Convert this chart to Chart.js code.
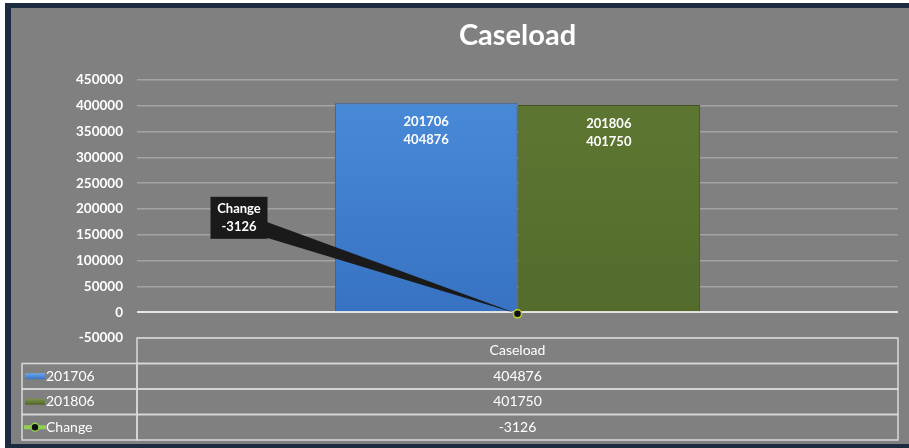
<!DOCTYPE html>
<html><head><meta charset="utf-8">
<script src="https://cdn.jsdelivr.net/npm/chart.js@4.4.0/dist/chart.umd.min.js"></script>
<style>html,body{margin:0;padding:0;background:#fff;overflow:hidden}canvas{display:block}</style>
</head><body>
<canvas id="c" width="909" height="448"></canvas>
<script>
// ---- data ----
const chartTitle = 'Caseload';
const categories = ['Caseload'];
const seriesNames = ['201706', '201806', 'Change'];
const values201706 = [404876];
const values201806 = [401750];
const valuesChange = [-3126];
const yMin = -50000, yMax = 450000, yStep = 50000;

const FONT = 'Lato, "Open Sans", sans-serif';

function vGrad(ctx, area, top, bottom) {
  if (!area) return top;
  const g = ctx.createLinearGradient(0, area.top, 0, area.bottom);
  g.addColorStop(0, top); g.addColorStop(1, bottom);
  return g;
}

const bgPlugin = {
  id: 'bg',
  beforeDraw(chart) {
    const c = chart.ctx, W = chart.width, H = chart.height;
    c.save();
    c.fillStyle = '#ffffff'; c.fillRect(0, 0, W, H);
    c.fillStyle = '#1c2b40'; c.fillRect(5, 3, W - 5, H - 3);
    c.fillStyle = '#808080'; c.fillRect(11, 8, W - 11, H - 12);
    const a = chart.chartArea;
    c.fillStyle = '#ffffff';
    c.font = 'bold 29px ' + FONT;
    c.textAlign = 'center'; c.textBaseline = 'middle';
    c.fillText(chartTitle, (a.left + a.right) / 2, 36);
    c.restore();
  }
};

const labelPlugin = {
  id: 'labels',
  afterDatasetsDraw(chart) {
    const c = chart.ctx;
    c.save();
    c.fillStyle = '#ffffff';
    c.font = 'bold 13px ' + FONT;
    c.textAlign = 'center'; c.textBaseline = 'middle';
    [0, 1].forEach(i => {
      const ds = chart.data.datasets[i];
      const bar = chart.getDatasetMeta(i).data[0];
      c.fillText(ds.label, bar.x, bar.y + 19);
      c.fillText(String(ds.data[0]), bar.x, bar.y + 37);
    });
    // callout for Change
    const meta = chart.getDatasetMeta(2);
    const p = meta.data[0];
    const bx = p.x - 307, by = p.y - 117, bw = 57, bh = 42;
    c.fillStyle = '#1a1a1a';
    c.beginPath();
    c.moveTo(bx + bw - 4, by + 24);
    c.lineTo(bx + bw - 4, by + 40);
    c.lineTo(p.x, p.y);
    c.closePath(); c.fill();
    c.fillRect(bx, by, bw, bh);
    c.fillStyle = '#ffffff';
    c.fillText(chart.data.datasets[2].label, bx + bw / 2, by + 12);
    c.fillText(String(chart.data.datasets[2].data[0]), bx + bw / 2, by + 30);
    c.restore();
    p.draw(c, chart.chartArea);
  }
};

const tablePlugin = {
  id: 'table',
  afterDraw(chart) {
    const c = chart.ctx, a = chart.chartArea;
    const top = a.bottom, L = a.left, R = a.right, rowH = 25.5, X0 = 22;
    const cx = (L + R) / 2;
    c.save();
    c.strokeStyle = '#d9d9d9'; c.lineWidth = 1.5;
    c.fillStyle = '#ffffff';
    c.font = '14px ' + FONT;
    c.textBaseline = 'middle';
    c.strokeRect(L, top, R - L, rowH);
    c.textAlign = 'center';
    c.fillText(categories[0], cx, top + rowH / 2);
    const vals = [values201706[0], values201806[0], valuesChange[0]];
    for (let i = 0; i < 3; i++) {
      const y = top + rowH * (i + 1), mid = y + rowH / 2;
      c.strokeRect(X0, y, L - X0, rowH);
      c.strokeRect(L, y, R - L, rowH);
      c.fillStyle = '#ffffff';
      c.textAlign = 'center';
      c.fillText(String(vals[i]), cx, mid);
      c.textAlign = 'left';
      c.fillText(seriesNames[i], X0 + 24, mid);
      if (i < 2) {
        const g = c.createLinearGradient(0, mid - 3, 0, mid + 3);
        if (i === 0) { g.addColorStop(0, '#6aa8f0'); g.addColorStop(1, '#3a72c0'); }
        else { g.addColorStop(0, '#7d9448'); g.addColorStop(1, '#4f6528'); }
        c.fillStyle = g;
        c.fillRect(X0 + 3, mid - 3, 20, 6);
      } else {
        c.strokeStyle = '#92d050'; c.lineWidth = 4;
        c.beginPath(); c.moveTo(X0 + 2, mid); c.lineTo(X0 + 24, mid); c.stroke();
        c.fillStyle = '#111111'; c.strokeStyle = '#92d050'; c.lineWidth = 1.5;
        c.beginPath(); c.arc(X0 + 13, mid, 4, 0, Math.PI * 2); c.fill(); c.stroke();
        c.strokeStyle = '#d9d9d9';
      }
    }
    c.restore();
  }
};

new Chart(document.getElementById('c'), {
  type: 'bar',
  data: {
    labels: categories,
    datasets: [
      {
        label: seriesNames[0], data: values201706, order: 1,
        backgroundColor: ctx => vGrad(ctx.chart.ctx, ctx.chart.chartArea, '#4a8cda', '#3570bf'),
        borderColor: '#2d5f9e', borderWidth: 1,
        categoryPercentage: 0.48, barPercentage: 1
      },
      {
        label: seriesNames[1], data: values201806, order: 1,
        backgroundColor: ctx => vGrad(ctx.chart.ctx, ctx.chart.chartArea, '#5e7832', '#526a2b'),
        borderColor: '#3f5220', borderWidth: 1,
        categoryPercentage: 0.48, barPercentage: 1
      },
      {
        type: 'line', label: seriesNames[2], data: valuesChange, order: 0,
        borderColor: '#92d050', borderWidth: 3,
        pointRadius: 4, pointBackgroundColor: '#111111',
        pointBorderColor: '#b5c832', pointBorderWidth: 1.5
      }
    ]
  },
  options: {
    responsive: false,
    animation: false,
    events: [],
    layout: { padding: { top: 80, bottom: 110, left: 0, right: 11 } },
    plugins: { legend: { display: false }, title: { display: false }, tooltip: { enabled: false } },
    scales: {
      x: { display: false },
      y: {
        min: yMin, max: yMax,
        ticks: {
          stepSize: yStep, color: '#ffffff', padding: 14,
          font: { family: FONT, size: 13.5, weight: 'bold' },
          callback: v => String(v)
        },
        grid: {
          drawTicks: false,
          color: ctx => ctx.tick && ctx.tick.value === 0 ? '#e6e6e6' : '#a3a3a3',
          lineWidth: ctx => ctx.tick && ctx.tick.value === 0 ? 2 : 1.5
        },
        border: { display: false },
        afterFit(s) { s.width = 137; }
      }
    }
  },
  plugins: [bgPlugin, labelPlugin, tablePlugin]
});
</script>
</body></html>
